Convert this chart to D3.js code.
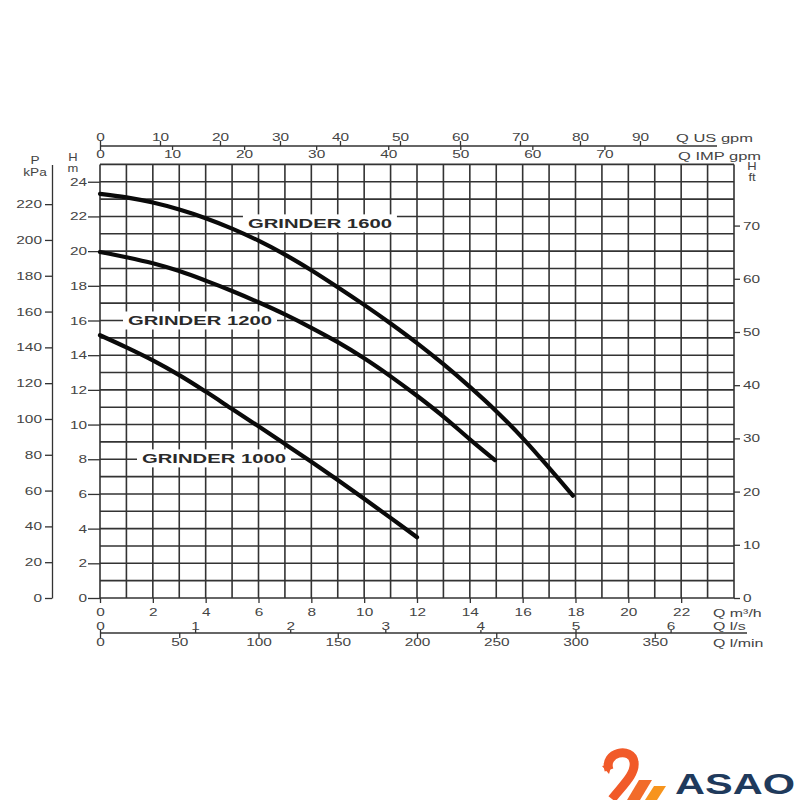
<!DOCTYPE html>
<html><head><meta charset="utf-8">
<script src="https://cdn.jsdelivr.net/npm/d3@7"></script>
<style>body{margin:0;background:#fff}svg{display:block}</style>
</head><body><svg id="c" width="800" height="800"></svg>
<script>
// ---- data (Q in m3/h, H in m) ----
const seriesNames = ["GRINDER 1600", "GRINDER 1200", "GRINDER 1000"];
const q1600 = [0,1,2,3,4,5,6,7,8,9,10,11,12,13,14,15,16,17,17.9];
const h1600 = [23.3,23.1,22.8,22.4,21.9,21.3,20.6,19.8,18.9,17.92,16.9,15.83,14.7,13.48,12.17,10.77,9.22,7.5,5.9];
const q1200 = [0,1,2,3,4,5,6,7,8,9,10,11,12,13,14,14.95];
const h1200 = [19.95,19.65,19.3,18.85,18.3,17.7,17.05,16.35,15.58,14.75,13.82,12.78,11.66,10.46,9.15,7.95];
const q1000 = [0,1,2,3,4,5,6,7,8,9,10,11,12];
const h1000 = [15.15,14.45,13.7,12.85,11.9,10.9,9.9,8.88,7.85,6.8,5.72,4.62,3.5];
const labelQ = [5.6, 1.06, 1.59];
const labelH = [21.6, 16.0, 8.05];

// tick labels
const hTicks = [0,2,4,6,8,10,12,14,16,18,20,22,24];
const kpaTicks = [0,20,40,60,80,100,120,140,160,180,200,220];
const ftTicks = [0,10,20,30,40,50,60,70];
const qTicks = [0,2,4,6,8,10,12,14,16,18,20,22];
const usTicks = [0,10,20,30,40,50,60,70,80,90];
const impTicks = [0,10,20,30,40,50,60,70];
const lsTicks = [0,1,2,3,4,5,6];
const lminTicks = [0,50,100,150,200,250,300,350];

const FONT = "'Liberation Sans', Arial, sans-serif";
const SX = 1.4;
const fmt = d3.format("d");
const svg = d3.select("#c");

const xQ = d3.scaleLinear().domain([0,24]).range([100,734]);
const yH = d3.scaleLinear().domain([0,25]).range([598,164.4]);
const yKpa = d3.scaleLinear().domain([0,242.2]).range([598,164.4]);
const yFt = d3.scaleLinear().domain([0,81.5]).range([598,164.4]);
const xUS = d3.scaleLinear().domain([0,24/0.22712]).range([100,734]);
const xIMP = d3.scaleLinear().domain([0,24/0.27277]).range([100,734]);
const xLs = d3.scaleLinear().domain([0,24/3.6]).range([100,734]);
const xLmin = d3.scaleLinear().domain([0,400]).range([100,734]);

// ---- grid ----
const grid = svg.append("g").attr("stroke","#333").attr("stroke-width",1.6);
grid.selectAll("line.h").data(d3.range(0,26)).join("line").attr("class","h")
  .attr("x1",xQ(0)).attr("x2",xQ(24)).attr("y1",d=>yH(d)).attr("y2",d=>yH(d));
grid.selectAll("line.v").data(d3.range(0,25)).join("line").attr("class","v")
  .attr("y1",yH(0)).attr("y2",yH(25)).attr("x1",d=>xQ(d)).attr("x2",d=>xQ(d));

function styleAxis(g, sx, size) {
  g.attr("font-family", FONT).attr("font-size", size || 11);
  g.selectAll(".tick line").attr("stroke","#333").attr("stroke-width",1.3);
  g.selectAll(".domain").attr("stroke","#333").attr("stroke-width",1.3);
  g.selectAll(".tick text").attr("fill","#444").each(function(){
    const t = d3.select(this);
    const x = +t.attr("x") || 0;
    t.attr("x", x/sx).attr("transform", `scale(${sx},1)`);
  });
}
function label(x, y, txt, anchor, sx, size, weight, fill) {
  return svg.append("text").attr("transform",`translate(${x},${y}) scale(${sx},1)`)
    .attr("text-anchor",anchor).attr("font-family",FONT).attr("font-size",size)
    .attr("font-weight",weight||"normal").attr("fill",fill||"#444").text(txt);
}

// left H (m)
const gH = svg.append("g").attr("transform",`translate(${xQ(0)},0)`)
  .call(d3.axisLeft(yH).tickValues(hTicks).tickFormat(fmt).tickSize(12).tickPadding(1).tickSizeOuter(0));
gH.select(".domain").remove();
styleAxis(gH, SX);

// left kPa
const gK = svg.append("g").attr("transform","translate(52,0)")
  .call(d3.axisLeft(yKpa).tickValues(kpaTicks).tickFormat(fmt).tickSize(7).tickPadding(3).tickSizeOuter(0));
styleAxis(gK, SX);

// right ft
const gF = svg.append("g").attr("transform",`translate(${xQ(24)},0)`)
  .call(d3.axisRight(yFt).tickValues(ftTicks).tickFormat(fmt).tickSize(6).tickPadding(3).tickSizeOuter(0));
gF.select(".domain").remove();
styleAxis(gF, SX);

// bottom m3/h
const gQ = svg.append("g").attr("transform",`translate(0,${yH(0)})`)
  .call(d3.axisBottom(xQ).tickValues(qTicks).tickFormat(fmt).tickSize(5).tickPadding(5).tickSizeOuter(0));
gQ.select(".domain").remove();
styleAxis(gQ, SX);

// bottom l/s (above) and l/min (below) on a shared line
const yLine = 633;
svg.append("line").attr("x1",xQ(0)).attr("x2",747).attr("y1",yLine).attr("y2",yLine)
  .attr("stroke","#333").attr("stroke-width",1.3);
const gLs = svg.append("g").attr("transform",`translate(0,${yLine})`)
  .call(d3.axisTop(xLs).tickValues(lsTicks).tickFormat(fmt).tickSize(3).tickPadding(0).tickSizeOuter(0));
gLs.select(".domain").remove();
styleAxis(gLs, SX);
const gLm = svg.append("g").attr("transform",`translate(0,${yLine})`)
  .call(d3.axisBottom(xLmin).tickValues(lminTicks).tickFormat(fmt).tickSize(5).tickPadding(0).tickSizeOuter(0));
gLm.select(".domain").remove();
styleAxis(gLm, SX);

// top US gpm (above) and IMP gpm (below)
const yTop = 146;
svg.append("line").attr("x1",xQ(0)).attr("x2",717).attr("y1",yTop).attr("y2",yTop)
  .attr("stroke","#333").attr("stroke-width",1.3);
const gUS = svg.append("g").attr("transform",`translate(0,${yTop})`)
  .call(d3.axisTop(xUS).tickValues(usTicks).tickFormat(fmt).tickSize(5).tickPadding(0).tickSizeOuter(0));
gUS.select(".domain").remove();
styleAxis(gUS, SX);
const gIM = svg.append("g").attr("transform",`translate(0,${yTop})`)
  .call(d3.axisBottom(xIMP).tickValues(impTicks).tickFormat(fmt).tickSize(4).tickPadding(0).tickSizeOuter(0));
gIM.select(".domain").remove();
styleAxis(gIM, SX);

// axis titles
label(676,142,"Q US gpm","start",1.5,11);
label(678,160,"Q IMP gpm","start",1.5,11);
label(713,617,"Q m³/h","start",1.45,11);
label(713,630,"Q l/s","start",1.45,11);
label(713,647,"Q l/min","start",1.45,11);
label(752,170,"H","middle",1.3,10);
label(752,181,"ft","middle",1.3,10);
label(35,164,"P","middle",1.3,10.5);
label(35,176,"kPa","middle",1.3,10.5);
label(73,161,"H","middle",1.3,10);
label(73,172,"m","middle",1.3,10);

// ---- series labels with white backing ----
const labW = 144;
const lg = svg.append("g");
seriesNames.forEach((n,i) => {
  const x0 = xQ(labelQ[i]), yc = yH(labelH[i]);
  lg.append("rect").attr("x",x0-5).attr("y",yc-9).attr("width",labW+10).attr("height",18).attr("fill","#fff");
  lg.append("text").attr("x",x0).attr("y",yc+4.3).attr("font-family",FONT).attr("font-size",12)
    .attr("font-weight","bold").attr("fill","#2a2a2a").attr("textLength",labW)
    .attr("lengthAdjust","spacingAndGlyphs").text(n);
});

// ---- curves ----
const line = d3.line().x(d=>xQ(d[0])).y(d=>yH(d[1])).curve(d3.curveCatmullRom.alpha(0.5));
const series = [[q1600,h1600],[q1200,h1200],[q1000,h1000]];
svg.append("g").selectAll("path").data(series).join("path")
  .attr("d", s => line(s[0].map((q,i)=>[q,s[1][i]])))
  .attr("fill","none").attr("stroke","#0a0a0a").attr("stroke-width",4.2)
  .attr("stroke-linecap","round").attr("stroke-linejoin","round");

// ---- logo ----
const logo = svg.append("g");
logo.append("path").attr("d","M609,770 C603,752 632,746 634,762 C636,774 622,786 612,799")
  .attr("fill","none").attr("stroke","#f15a29").attr("stroke-width",9).attr("stroke-linecap","butt");
logo.append("path").attr("d","M602,766 L612,764 L609,774 Z").attr("fill","#f15a29");
logo.append("path").attr("d","M627,800 L640,800 L652,780 L639,780 Z").attr("fill","#f26b2a");
logo.append("path").attr("d","M645,800 L657,800 L666,786 L654,786 Z").attr("fill","#f7941d");
logo.append("text").attr("x",675).attr("y",794).attr("font-family",FONT).attr("font-size",29)
  .attr("font-weight","bold").attr("fill","#1f3a5c").attr("textLength",120)
  .attr("lengthAdjust","spacingAndGlyphs").text("ASAO");
</script></body></html>
